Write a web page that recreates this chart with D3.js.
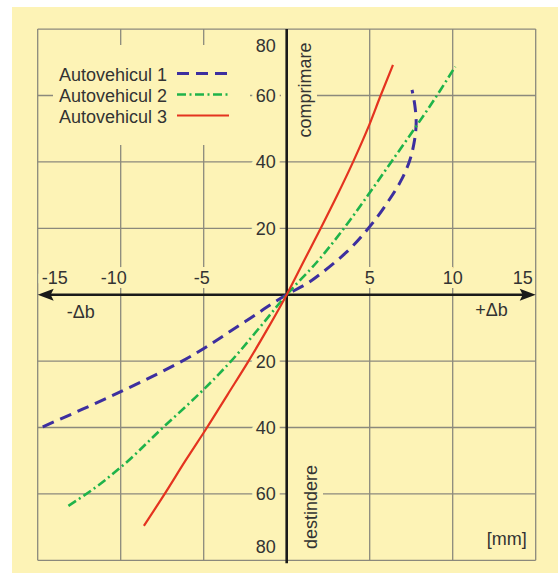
<!DOCTYPE html>
<html><head><meta charset="utf-8">
<script src="https://cdn.jsdelivr.net/npm/d3@7"></script>
<style>
body{margin:0;background:#fff}
svg{display:block}
text{font-family:"Liberation Sans",Arial,Helvetica,sans-serif}
</style>
</head><body>
<svg id="c" width="558" height="573"></svg>
<script>
// ---- data ----
const xTickValues = [-15, -10, -5, 5, 10, 15];
const yTickValues = [80, 60, 40, 20, -20, -40, -60, -80];
const seriesNames = ["Autovehicul 1", "Autovehicul 2", "Autovehicul 3"];
// [Δb (mm), force-axis value]
const auto1 = [[-14.7,-39.8],[-12.3,-34.5],[-10,-29.2],[-6.3,-20],[-2.5,-8.1],[0,0],
               [1.2,3.3],[2.3,7.3],[3.6,12.8],[5.0,20.5],[6.1,28],[6.9,34.5],[7.4,40.3],
               [7.7,46.5],[7.8,52],[7.72,57],[7.55,61.7]];
const auto2 = [[-13.15,-63.6],[-11.5,-58],[-10,-52],[-7.45,-40],[-5.3,-30],[-3.35,-20],[-1.65,-10],[0,0],
               [1.85,10],[3.45,20],[4.9,30],[6.3,40],[7.7,50],[9.05,60],[10.15,68.7]];
const auto3 = [[-8.6,-69.6],[-7.35,-60],[-6.1,-50],[-4.8,-40],[-3.55,-30],[-2.3,-20],[-1.12,-10],[0,0],
               [1.02,10],[2.05,20],[3.05,30],[4.0,40],[4.88,50],[5.66,60],[6.4,69.2]];
const seriesData = [auto1, auto2, auto3];

// ---- styles ----
const BG = "#fdf3b6";
const GRID = "#8b897c";
const INK = "#333333";
const AXIS = "#1a1a1a";
const seriesStyle = [
  {color:"#3d2f9f", width:3,   dash:"12,7"},
  {color:"#1fb34a", width:2.6, dash:"9,3.5,2,3.5"},
  {color:"#e4331f", width:2.2, dash:null}
];

const svg = d3.select("#c");
const x = d3.scaleLinear().domain([-15, 15]).range([37.7, 535.7]);
const y = d3.scaleLinear().domain([-80, 80]).range([560.3, 29.1]);

// panel
svg.append("rect").attr("x", 12).attr("y", 7).attr("width", 546).attr("height", 566).attr("fill", BG);

// grid
const grid = svg.append("g").attr("stroke", GRID).attr("stroke-width", 1.3);
grid.selectAll("line.v").data(xTickValues).join("line")
  .attr("x1", d => x(d)).attr("x2", d => x(d)).attr("y1", y(80)).attr("y2", y(-80));
grid.selectAll("line.h").data(yTickValues).join("line")
  .attr("x1", x(-15)).attr("x2", x(15)).attr("y1", d => y(d)).attr("y2", d => y(d));

// legend background (hides grid)
svg.append("rect").attr("x", 53).attr("y", 45).attr("width", 197).attr("height", 100).attr("fill", BG);

// y labels (absolute values) with halo
const fs = 18;
svg.selectAll("text.yl").data(yTickValues).join("text")
  .attr("class", "yl")
  .attr("x", x(0) - 11)
  .attr("y", d => y(d) + (d === 80 ? 16.5 : d === -80 ? -14 : 0))
  .attr("dy", "0.36em")
  .attr("text-anchor", "end")
  .attr("font-size", fs).attr("fill", INK)
  .attr("stroke", BG).attr("stroke-width", 9).attr("paint-order", "stroke")
  .text(d => Math.abs(d));

// x labels with halo
svg.selectAll("text.xl").data(xTickValues).join("text")
  .attr("class", "xl")
  .attr("x", d => d === -15 ? x(d) + 4 : d === 15 ? x(d) - 3 : d < 0 ? x(d) + 6 : x(d))
  .attr("y", y(0) - 10.5)
  .attr("text-anchor", d => d === -15 ? "start" : d === 15 ? "end" : d < 0 ? "end" : "middle")
  .attr("font-size", fs).attr("fill", INK)
  .attr("stroke", BG).attr("stroke-width", d => d === 15 ? 4 : 8).attr("paint-order", "stroke")
  .text(d => d);

// vertical axis labels with backgrounds
function vlabel(txt, cx, cy) {
  const g = svg.append("g");
  const bgRect = g.append("rect").attr("fill", BG);
  const t = g.append("text")
    .attr("transform", `translate(${cx},${cy}) rotate(-90)`)
    .attr("text-anchor", "middle").attr("font-size", fs).attr("fill", INK)
    .text(txt);
  const b = t.node().getBBox();
  bgRect.attr("x", cx - b.height + 3 - 13).attr("y", cy - b.width / 2 - 4)
        .attr("width", b.height + 16).attr("height", b.width + 8);
}
vlabel("comprimare", 311, 90);
vlabel("destindere", 317, 507);

// axes
svg.append("line").attr("x1", x(0)).attr("x2", x(0)).attr("y1", y(80)).attr("y2", y(-80) + 3)
  .attr("stroke", AXIS).attr("stroke-width", 2.6);
svg.append("line").attr("x1", x(-15) + 12).attr("x2", x(15) - 12).attr("y1", y(0)).attr("y2", y(0))
  .attr("stroke", AXIS).attr("stroke-width", 2.6);
const ah = 16, aw = 6;
svg.append("path").attr("fill", AXIS)
  .attr("d", `M${x(-15)},${y(0)} L${x(-15)+ah},${y(0)-aw} L${x(-15)+ah-3},${y(0)} L${x(-15)+ah},${y(0)+aw} Z`);
svg.append("path").attr("fill", AXIS)
  .attr("d", `M${x(15)},${y(0)} L${x(15)-ah},${y(0)-aw} L${x(15)-ah+3},${y(0)} L${x(15)-ah},${y(0)+aw} Z`);

// axis titles
svg.append("text").attr("x", x(-15) + 29).attr("y", y(0) + 23).attr("font-size", fs).attr("fill", INK).text("-Δb");
svg.append("text").attr("x", x(15) - 28).attr("y", y(0) + 21).attr("text-anchor", "end").attr("font-size", fs).attr("fill", INK).text("+Δb");
svg.append("text").attr("x", x(15) - 9).attr("y", y(-80) - 15).attr("text-anchor", "end").attr("font-size", fs).attr("fill", INK).text("[mm]");

// curves (each is monotone along the vertical axis)
const line = d3.line().x(d => x(d[0])).y(d => y(d[1])).curve(d3.curveMonotoneY);
svg.selectAll("path.s").data(seriesData).join("path")
  .attr("class", "s")
  .attr("d", d => line(d))
  .attr("fill", "none")
  .attr("stroke", (d, i) => seriesStyle[i].color)
  .attr("stroke-width", (d, i) => seriesStyle[i].width)
  .attr("stroke-dasharray", (d, i) => seriesStyle[i].dash);

// legend
const leg = svg.append("g");
seriesNames.forEach((name, i) => {
  const by = 81 + i * 21;
  leg.append("text").attr("x", 59).attr("y", by).attr("font-size", fs).attr("fill", INK).text(name);
  leg.append("line").attr("x1", 177).attr("x2", 229).attr("y1", by - 7.5).attr("y2", by - 7.5)
    .attr("stroke", seriesStyle[i].color).attr("stroke-width", seriesStyle[i].width)
    .attr("stroke-dasharray", seriesStyle[i].dash);
});
</script>
</body></html>
